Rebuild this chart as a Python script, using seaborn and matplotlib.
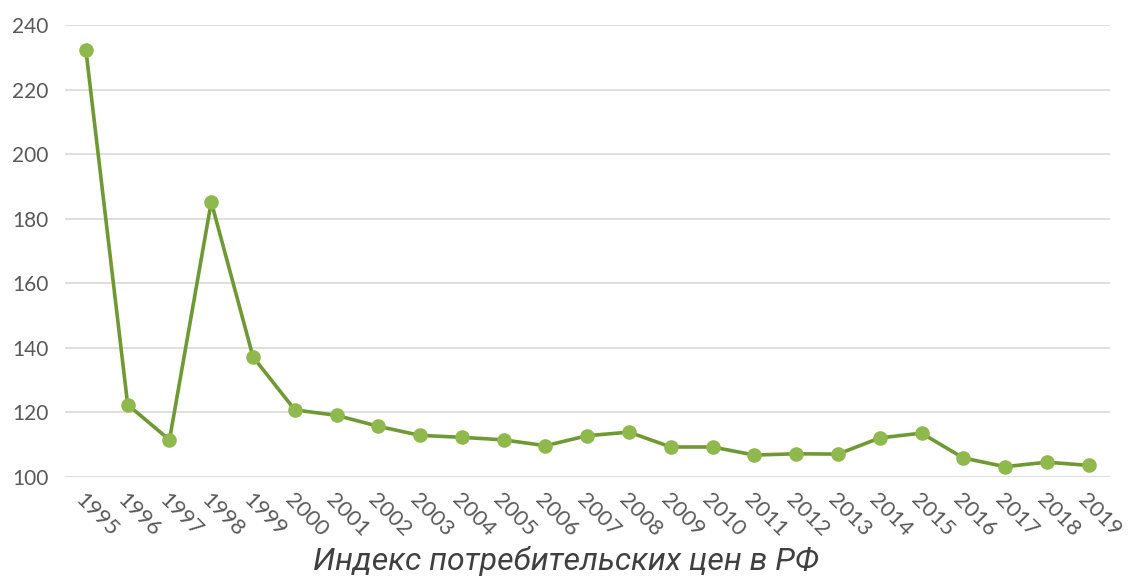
import matplotlib
matplotlib.use("Agg")
import matplotlib.pyplot as plt
import seaborn as sns
import pandas as pd

years = [str(y) for y in range(1995, 2020)]
cpi = [232.2, 122.4, 111.5, 185.2, 137.2, 120.8, 119.1, 115.7, 112.9, 112.3,
       111.5, 109.7, 112.8, 113.9, 109.3, 109.3, 106.8, 107.2, 107.1, 112.1,
       113.6, 105.9, 103.2, 104.6, 103.6]
yticks = [100, 120, 140, 160, 180, 200, 220, 240]
title = "Индекс потребительских цен в РФ"

df = pd.DataFrame({"year": years, "cpi": cpi})

sns.set_theme(style="white")
plt.rcParams['font.family'] = ['Lato', 'DejaVu Sans']

fig = plt.figure(figsize=(11.31, 5.78), dpi=100)
ax = fig.add_axes([0.0575, 0.1747, 0.9235, 0.782])

sns.lineplot(data=df, x="year", y="cpi", ax=ax, color="#6f9a33", linewidth=2.6,
             marker="o", markersize=10.5, markerfacecolor="#8fb84d",
             markeredgewidth=0, sort=False)

ax.set_xlim(-0.5, len(years) - 0.5)
ax.set_ylim(100, 240)
ax.set_yticks(yticks)
ax.yaxis.grid(True, color="#d9d9d9", linewidth=1.2)
ax.set_axisbelow(True)
for s in ax.spines.values():
    s.set_visible(False)
ax.tick_params(axis="y", labelsize=15, labelcolor="#595959", length=0, pad=12)
ax.tick_params(axis="x", labelsize=16, labelcolor="#595959", length=0, pad=9)
for lab in ax.get_xticklabels():
    lab.set_rotation(-45)
    lab.set_ha("left")
    lab.set_rotation_mode("anchor")
ax.set_xlabel("")
ax.set_ylabel("")

fig.text(0.5, 0.029, title, ha="center", va="center", fontsize=23,
         style="italic", family="Roboto", color="#404040")

fig.savefig("out.png", dpi=100)
